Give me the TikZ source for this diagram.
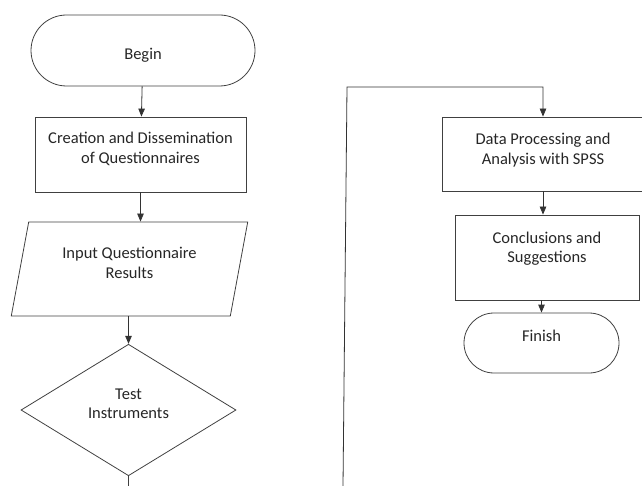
\documentclass[tikz,border=0pt]{standalone}
\usepackage{fontspec}
\setmainfont{Carlito}
\usetikzlibrary{shapes.geometric, arrows.meta}

\begin{document}
\begin{tikzpicture}[
                x=1pt, y=-1pt,
                every node/.style={draw=black!75, line width=0.8pt, align=center, text=black!85, inner sep=2pt,
                    font=\fontsize{16.5}{19.5}\selectfont},
                terminal/.style={rectangle, rounded corners=#1, minimum height=2*#1},
                process/.style={rectangle},
                inout/.style={trapezium, trapezium left angle=75.7, trapezium right angle=104.3,
                    trapezium stretches=true},
                decision/.style={diamond},
                flow/.style={draw=black!80, line width=0.8pt, -{Triangle[length=8pt, width=6.5pt]}},
                link/.style={draw=black!75, line width=0.8pt}
            ]
                \useasboundingbox (0,0) rectangle (642,486);

                % left column
                \node[terminal=35.5pt, minimum width=224pt, text height=21pt, text depth=3.5pt] (begin) at (143,50.5) {Begin};
                \node[process, minimum width=211pt, minimum height=75pt, text depth=13pt] (create) at (140.5,154.5)
                    {Creation and Dissemination\\of Questionnaires};
                \node[inout, minimum width=237pt, minimum height=94pt, text depth=12pt] (input) at (129.5,269)
                    {Input Questionnaire\\Results};
                \node[decision, minimum width=215pt, minimum height=126pt, text depth=12.5pt] (test) at (128.5,410)
                    {Test\\Instruments};
                \coordinate (pageout) at (128.5,486);

                % right column
                \node[process, minimum width=202pt, minimum height=74pt, text depth=10pt] (analysis) at (543,154)
                    {Data Processing and\\Analysis with SPSS};
                \node[process, minimum width=184pt, minimum height=85pt, text depth=20.5pt] (conclude) at (547,257.5)
                    {Conclusions and\\Suggestions};
                \node[terminal=30pt, minimum width=155pt, text height=11.5pt, text depth=14.5pt] (finish) at (541.5,343) {Finish};
                \coordinate (pagein) at (343,486);
                \coordinate (turn) at (347,87);

                \draw[flow] (begin) -- (create);
                \draw[flow] (create) -- (create |- input.north);
                \draw[flow] (input.south -| test) -- (test);
                \draw[link] (test) -- (pageout);
                \draw[flow] (pagein) -- (turn) -| (analysis.north);
                \draw[flow] (analysis) -- (analysis |- conclude.north);
                \draw[flow] (conclude.south -| finish) -- (finish);
            \end{tikzpicture}
\end{document}
